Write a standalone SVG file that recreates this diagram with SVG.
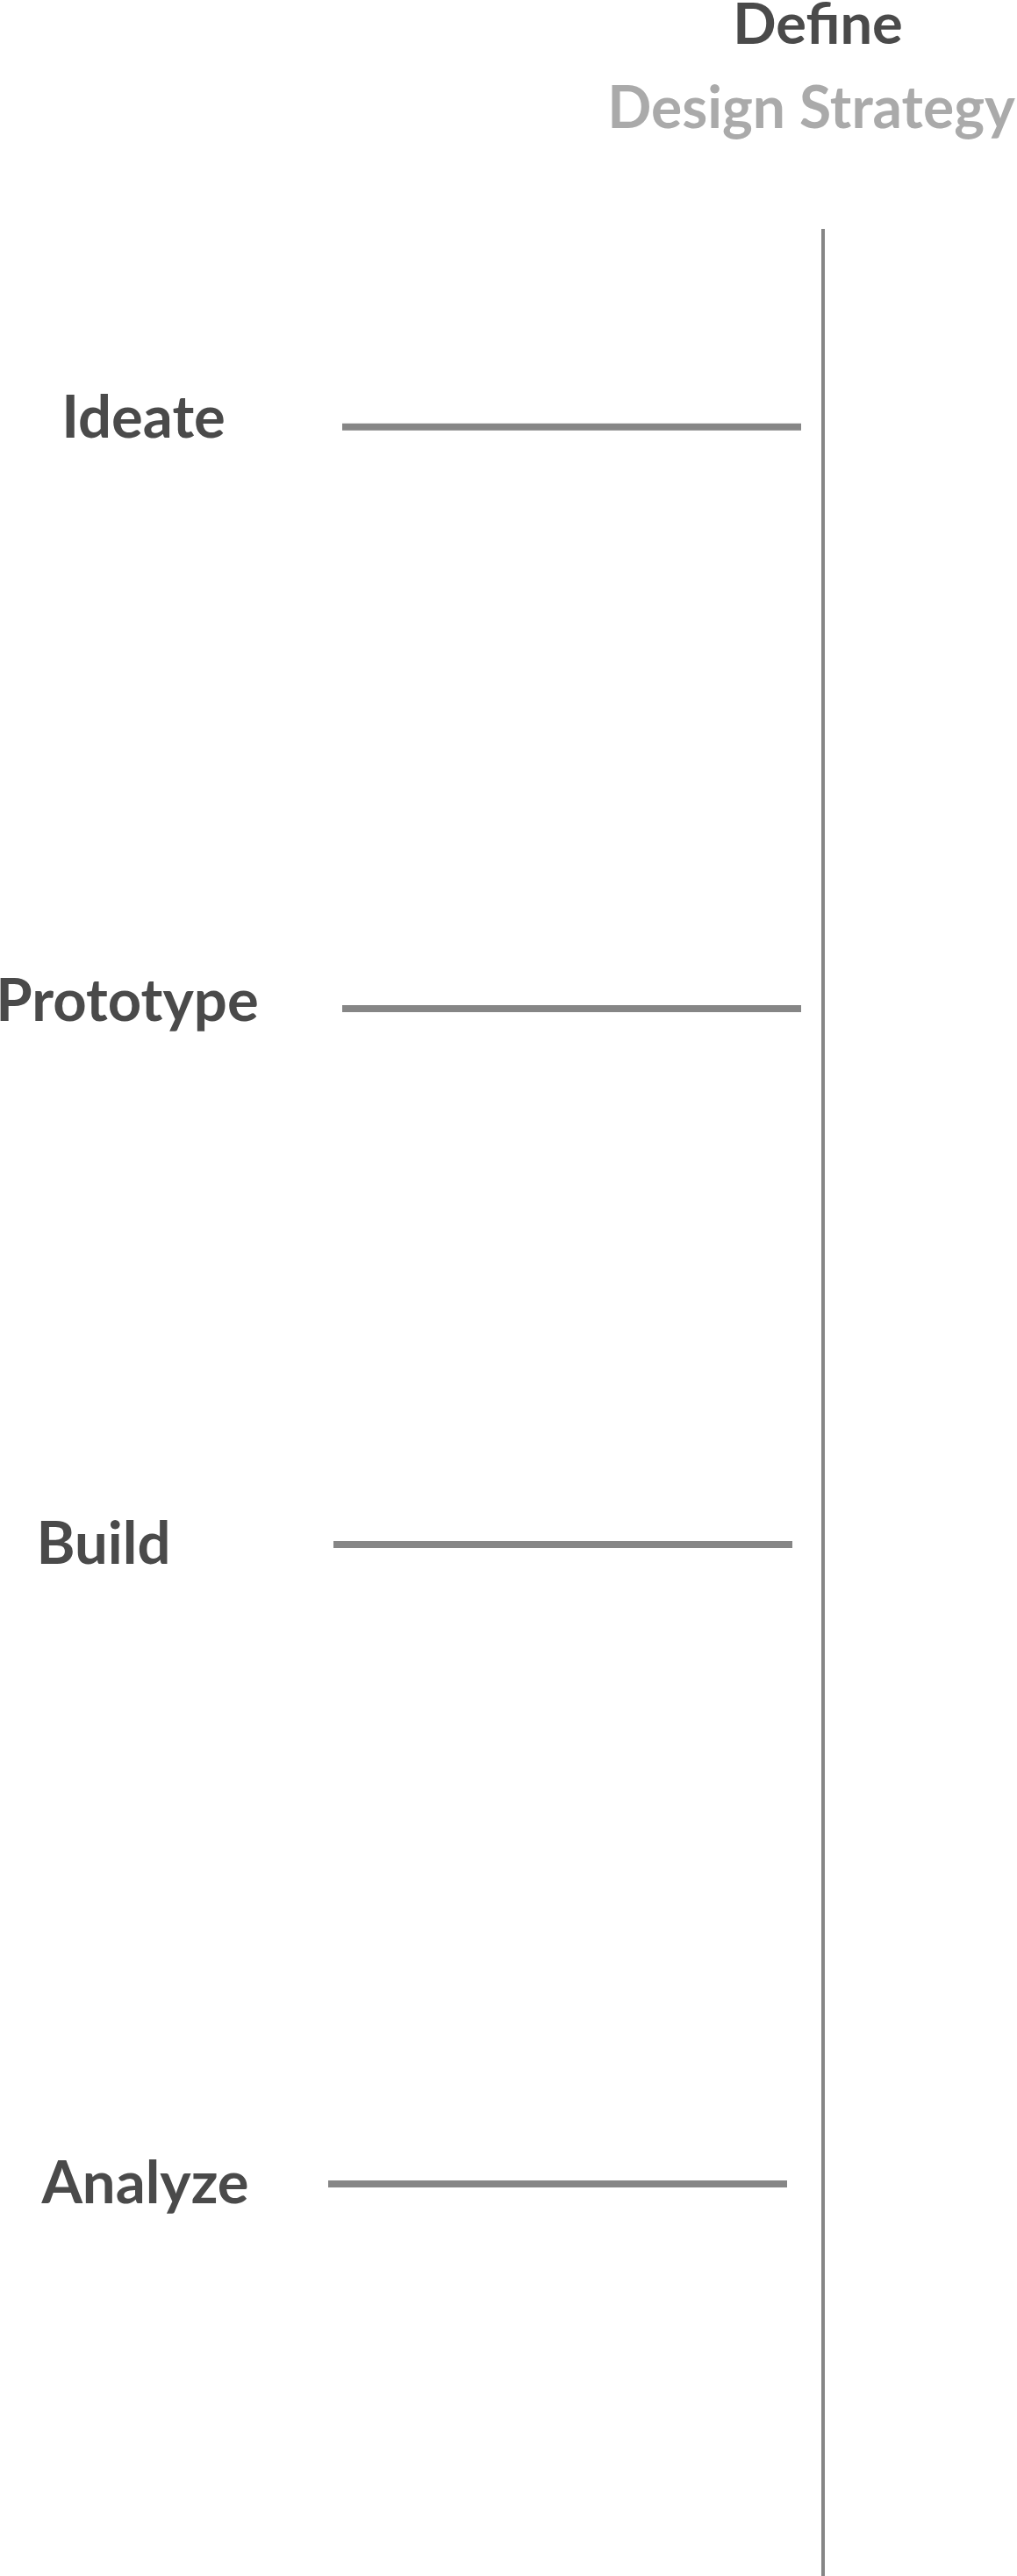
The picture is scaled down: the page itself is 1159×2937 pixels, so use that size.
<svg xmlns="http://www.w3.org/2000/svg" width="1159" height="2937" viewBox="0 0 1159 2937">
<style>
.lbl{font-family:Lato,"Liberation Sans",sans-serif;font-weight:700;fill:#4a4a4a;font-size:67px}
.sub{font-family:Lato,"Liberation Sans",sans-serif;font-weight:700;fill:#aaaaaa;font-size:66px}
.ln{stroke:#868686;stroke-width:8;fill:none}
.axis{stroke:#868686;stroke-width:4;fill:none}
</style>
<rect width="1159" height="2937" fill="#ffffff"/>
<g id="header">
<text class="lbl" x="932" y="50" text-anchor="middle" style="font-size:65px">Define</text>
<text class="sub" x="924.5" y="146" text-anchor="middle">Design Strategy</text>
</g>
<g id="connectors">
<line class="axis" x1="938" y1="261" x2="938" y2="2937"/>
<line class="ln" x1="390" y1="486.7" x2="913" y2="486.7"/>
<line class="ln" x1="390" y1="1150" x2="913" y2="1150"/>
<line class="ln" x1="380" y1="1761" x2="903" y2="1761"/>
<line class="ln" x1="374" y1="2490" x2="897" y2="2490"/>
</g>
<g id="ideate"><text class="lbl" x="163.5" y="499" text-anchor="middle">Ideate</text></g>
<g id="prototype"><text class="lbl" x="145" y="1163.7" text-anchor="middle">Prototype</text></g>
<g id="build"><text class="lbl" x="118" y="1782.7" text-anchor="middle">Build</text></g>
<g id="analyze"><text class="lbl" x="165.5" y="2511.7" text-anchor="middle">Analyze</text></g>
</svg>
